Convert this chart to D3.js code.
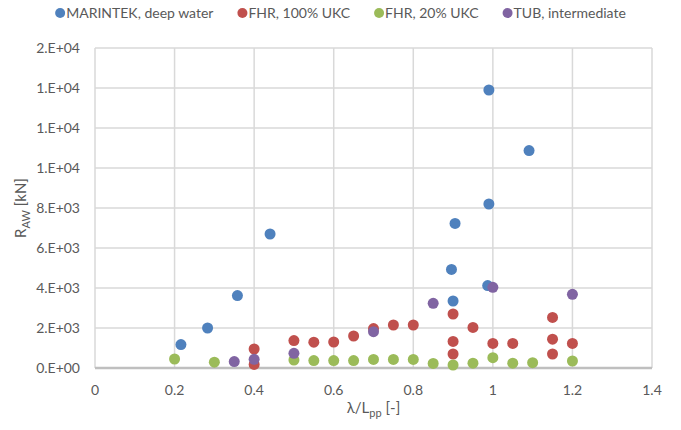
<!DOCTYPE html>
<html>
<head>
<meta charset="utf-8">
<script src="https://cdn.jsdelivr.net/npm/d3@7"></script>
<style>
  body { margin: 0; background: #fff; }
  text { font-family: Lato, "Liberation Sans", sans-serif; fill: #595959; }
</style>
</head>
<body>
<svg id="chart"></svg>
<script>
// series: [lambda/Lpp, R_AW in kN]
var marintek = [[0.216, 1170], [0.283, 2000], [0.358, 3620], [0.44, 6700], [0.896, 4930],
    [0.9, 3350], [0.905, 7230], [0.987, 4120], [0.99, 8200], [0.99, 13900], [1.091, 10870]];
var fhr100 = [[0.4, 950], [0.4, 180], [0.5, 1370], [0.55, 1290], [0.6, 1300], [0.65, 1600],
    [0.7, 1970], [0.75, 2150], [0.8, 2150], [0.9, 2700], [0.9, 1330], [0.9, 700], [0.95, 2030],
    [1.0, 1230], [1.05, 1230], [1.15, 2530], [1.15, 1440], [1.15, 700], [1.2, 1230]];
var fhr20 = [[0.2, 450], [0.3, 290], [0.5, 400], [0.55, 370], [0.6, 370], [0.65, 370],
    [0.7, 430], [0.75, 430], [0.8, 430], [0.85, 230], [0.9, 150], [0.95, 240], [1.0, 517],
    [1.05, 240], [1.1, 267], [1.2, 350]];
var tub = [[0.35, 320], [0.4, 433], [0.5, 733], [0.7, 1817], [0.85, 3233], [1.0, 4033], [1.2, 3683]];

var seriesNames = ["MARINTEK, deep water", "FHR, 100% UKC", "FHR, 20% UKC", "TUB, intermediate"];
var seriesColors = ["#4F81BD", "#C0504D", "#9BBB59", "#8064A2"];
var xTicks = [0, 0.2, 0.4, 0.6, 0.8, 1, 1.2, 1.4];
var yTicks = [0, 2000, 4000, 6000, 8000, 10000, 12000, 14000, 16000];

var settings = { width: 681, height: 430 };
var margin = { left: 95, right: 29, top: 48, bottom: 62 };

var svg = d3.select("#chart")
    .attr("width", settings.width)
    .attr("height", settings.height);

var x = d3.scaleLinear().domain([0, 1.4]).range([margin.left, settings.width - margin.right]);
var y = d3.scaleLinear().domain([0, 16000]).range([settings.height - margin.bottom, margin.top]);

// Excel style "0.E+00"
function sci(v) {
    if (v === 0) return "0.E+00";
    var e = Math.floor(Math.log10(v));
    var m = Math.round(v / Math.pow(10, e));
    if (m >= 10) { m = 1; e += 1; }
    return m + ".E+" + (e < 10 ? "0" + e : e);
}

/* gridlines */
svg.append("g")
    .selectAll("line.hgrid")
    .data(yTicks.slice(1))
    .enter()
    .append("line")
    .attr("x1", x(0)).attr("x2", x(1.4))
    .attr("y1", function (d) { return y(d); })
    .attr("y2", function (d) { return y(d); })
    .attr("stroke", "#D9D9D9")
    .attr("stroke-width", 1.5);

svg.append("g")
    .selectAll("line.vgrid")
    .data(xTicks)
    .enter()
    .append("line")
    .attr("y1", y(0)).attr("y2", y(16000))
    .attr("x1", function (d) { return x(d); })
    .attr("x2", function (d) { return x(d); })
    .attr("stroke", "#D9D9D9")
    .attr("stroke-width", 1.5);

// x axis line
svg.append("line")
    .attr("x1", x(0)).attr("x2", x(1.4))
    .attr("y1", y(0)).attr("y2", y(0))
    .attr("stroke", "#BFBFBF")
    .attr("stroke-width", 2.5);

/* tick labels */
svg.append("g")
    .selectAll("text")
    .data(yTicks)
    .enter()
    .append("text")
    .attr("x", 80)
    .attr("y", function (d) { return y(d); })
    .attr("dy", "0.35em")
    .attr("text-anchor", "end")
    .style("font-size", "14px")
    .text(sci);

svg.append("g")
    .selectAll("text")
    .data(xTicks)
    .enter()
    .append("text")
    .attr("x", function (d) { return x(d); })
    .attr("y", 390)
    .attr("dy", "0.35em")
    .attr("text-anchor", "middle")
    .style("font-size", "14px")
    .text(function (d) { return d3.format("")(d); });

/* axis titles */
var xt = svg.append("text")
    .attr("x", (x(0) + x(1.4)) / 2)
    .attr("y", 413)
    .attr("text-anchor", "middle")
    .style("font-size", "15px");
xt.append("tspan").text("λ/L");
xt.append("tspan").attr("dy", 4).style("font-size", "11px").text("pp");
xt.append("tspan").attr("dy", -4).text(" [-]");

var yt = svg.append("text")
    .attr("transform", "translate(26," + 208 + ") rotate(-90)")
    .attr("text-anchor", "middle")
    .style("font-size", "15px");
yt.append("tspan").text("R");
yt.append("tspan").attr("dy", 4).style("font-size", "11px").text("AW");
yt.append("tspan").attr("dy", -4).text(" [kN]");

/* points */
var allSeries = [marintek, fhr100, fhr20, tub];
allSeries.forEach(function (s, i) {
    svg.append("g")
        .selectAll("circle")
        .data(s)
        .enter()
        .append("circle")
        .attr("cx", function (d) { return x(d[0]); })
        .attr("cy", function (d) { return y(d[1]); })
        .attr("r", 5.5)
        .attr("fill", seriesColors[i]);
});

/* legend - laid out by measured text width, centred on the chart */
var legend = svg.append("g").attr("transform", "translate(0,13)");
var items = legend.selectAll("g")
    .data(seriesNames)
    .enter()
    .append("g");

items.append("circle")
    .attr("r", 5)
    .attr("fill", function (d, i) { return seriesColors[i]; });

items.append("text")
    .attr("x", 6)
    .attr("dy", "0.35em")
    .style("font-size", "14px")
    .text(function (d) { return d; });

var pos = 0, starts = [];
items.each(function () {
    starts.push(pos);
    var w = d3.select(this).select("text").node().getComputedTextLength();
    pos += 6 + w + 29;
});
var total = pos - 29 + 5;
var left = settings.width / 2 - total / 2 + 5;
items.attr("transform", function (d, i) { return "translate(" + (left + starts[i]) + ",0)"; });
</script>
</body>
</html>
